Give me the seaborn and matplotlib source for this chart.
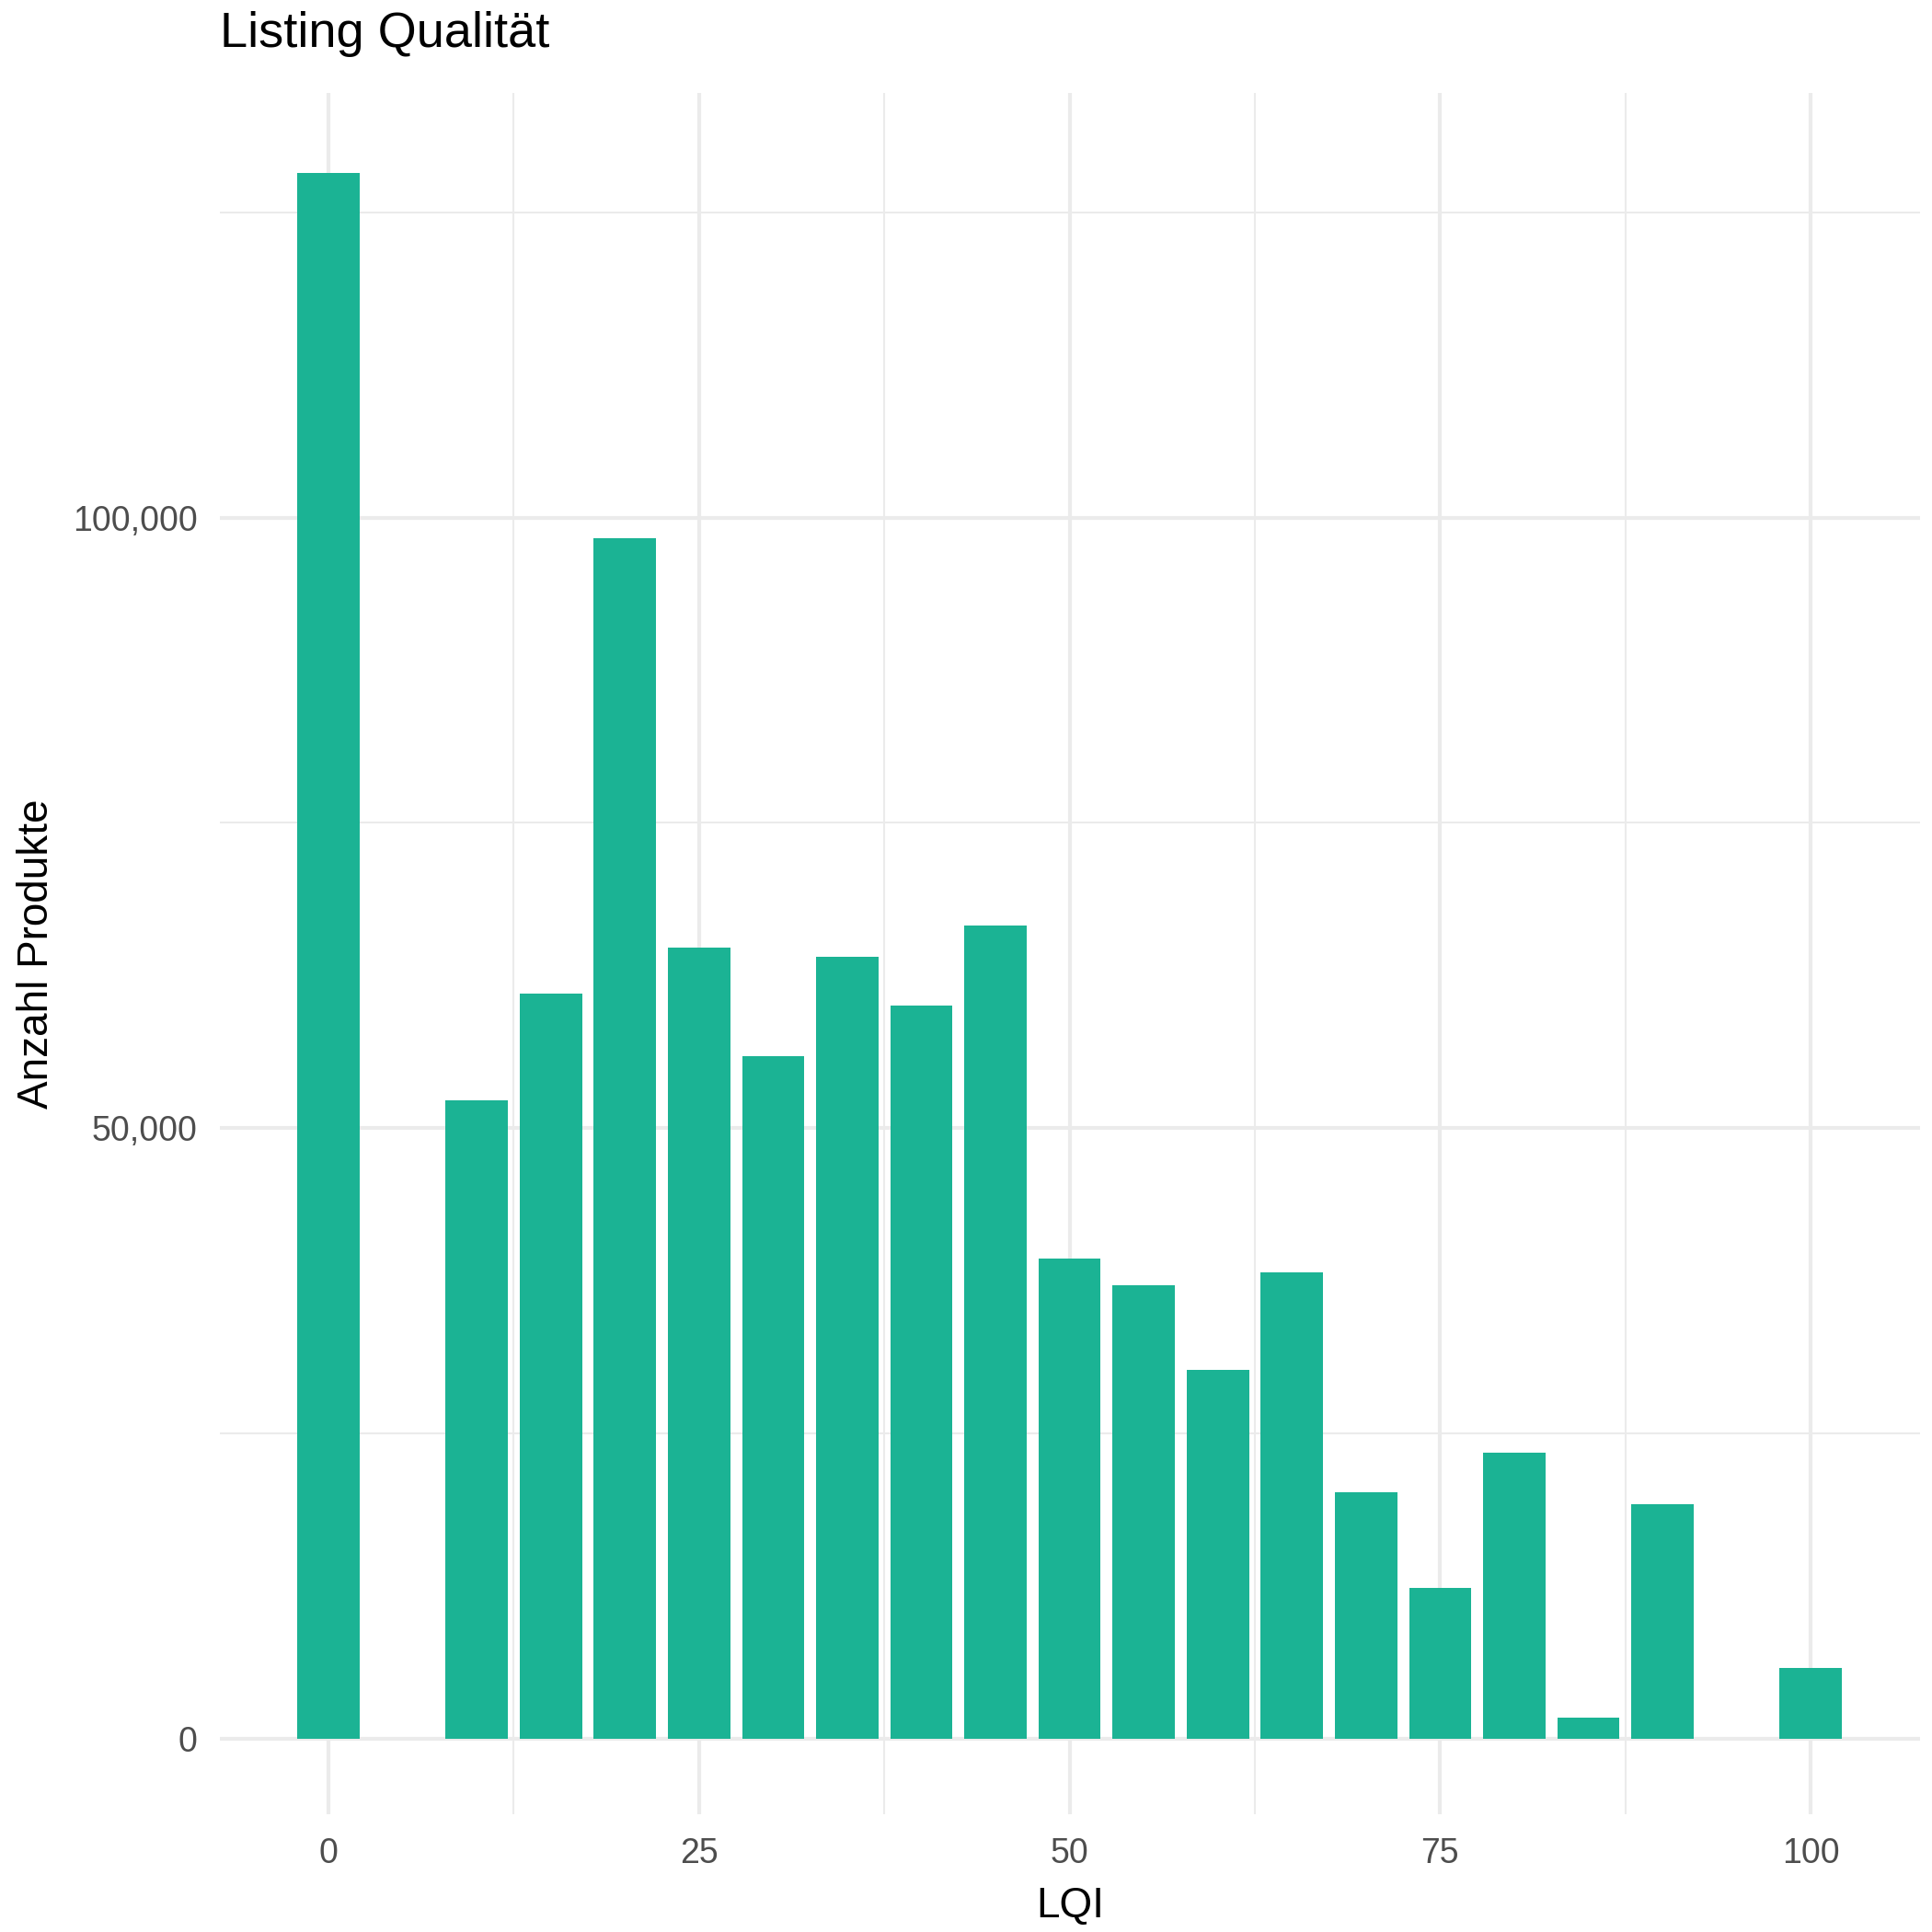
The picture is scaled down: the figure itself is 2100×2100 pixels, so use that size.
import matplotlib
matplotlib.use("Agg")
import matplotlib.pyplot as plt
import seaborn as sns
import pandas as pd
from matplotlib.ticker import FuncFormatter, MultipleLocator

lqi = [0, 10, 15, 20, 25, 30, 35, 40, 45, 50, 55, 60, 65, 70, 75, 80, 85, 90, 100]
counts = [128200, 52300, 61000, 98300, 64800, 55900, 64000, 60000, 66600,
          39300, 37100, 30200, 38200, 20200, 12300, 23400, 1700, 19200, 5800]
df = pd.DataFrame({"LQI": lqi, "n": counts})

plt.rcParams["font.family"] = "Liberation Sans"
fig = plt.figure(figsize=(7, 7), dpi=300)
ax = fig.add_axes([0.114, 0.061, 0.880, 0.891])
ax.set_axisbelow(True)
sns.barplot(data=df, x="LQI", y="n", native_scale=True, width=0.84,
            color="#1BB394", saturation=1, ax=ax, edgecolor="none")
ax.set_xlim(-7.3, 107.4)
ax.set_ylim(-6200, 134800)
ax.xaxis.set_major_locator(MultipleLocator(25))
ax.xaxis.set_minor_locator(MultipleLocator(12.5))
ax.yaxis.set_major_locator(MultipleLocator(50000))
ax.yaxis.set_minor_locator(MultipleLocator(25000))
ax.yaxis.set_major_formatter(FuncFormatter(lambda v, p: f"{int(v):,}"))
ax.grid(which="major", color="#EBEBEB", linewidth=1.0)
ax.grid(which="minor", color="#EBEBEB", linewidth=0.5)
for s in ax.spines.values():
    s.set_visible(False)
ax.tick_params(which="both", length=0, labelsize=9, labelcolor="#4D4D4D", pad=6)
ax.set_xlabel("LQI", fontsize=11)
ax.set_ylabel("Anzahl Produkte", fontsize=11)
ax.set_title("Listing Qualität", loc="left", fontsize=13, x=0.0, pad=12)
fig.savefig("out.png")
